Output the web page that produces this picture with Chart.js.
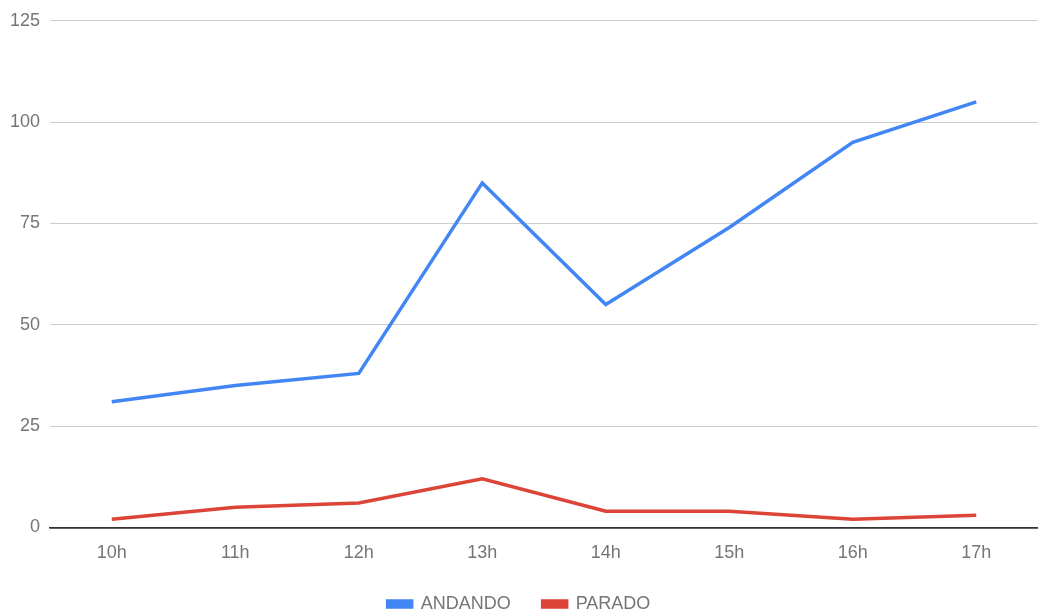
<!DOCTYPE html>
<html>
<head>
<meta charset="utf-8">
<script src="https://cdn.jsdelivr.net/npm/chart.js@4"></script>
<style>
  html, body { margin: 0; padding: 0; background: #fff; }
  #wrap { width: 1038px; height: 616px; }
</style>
</head>
<body>
<div id="wrap"><canvas id="chart"></canvas></div>
<script>
// horas do dia
const horas = ['10h', '11h', '12h', '13h', '14h', '15h', '16h', '17h'];
const andando = [31, 35, 38, 85, 55, 74, 95, 105];
const parado = [2, 5, 6, 12, 4, 4, 2, 3];

const yMin = 0;
const yMax = 125;
const yStep = 25;

const fonte = { family: 'Arial, "Liberation Sans", sans-serif', size: 18 };
const cinza = '#757575';

new Chart(document.getElementById('chart'), {
    type: 'line',
    data: {
        labels: horas,
        datasets: [{
            label: 'ANDANDO',
            data: andando,
            borderColor: '#4285F4',
            backgroundColor: '#4285F4',
            borderWidth: 3.5,
            pointRadius: 0,
            tension: 0
        }, {
            label: 'PARADO',
            data: parado,
            borderColor: '#DB4437',
            backgroundColor: '#DB4437',
            borderWidth: 3.5,
            pointRadius: 0,
            tension: 0
        }]
    },
    options: {
        responsive: true,
        maintainAspectRatio: false,
        animation: false,
        layout: { padding: { left: 0, top: 10, right: 0, bottom: -7 } },
        plugins: {
            tooltip: { enabled: false },
            legend: {
                position: 'bottom',
                labels: {
                    font: fonte,
                    color: cinza,
                    boxWidth: 24,
                    boxHeight: 6,
                    padding: 32
                }
            }
        },
        scales: {
            x: {
                offset: true,
                grid: { display: false },
                border: { color: '#333', width: 1.5 },
                ticks: { font: fonte, color: cinza, padding: 7 },
                afterFit: scale => { scale.height -= 8; }
            },
            y: {
                min: yMin,
                max: yMax,
                border: { display: false },
                grid: {
                    drawTicks: false,
                    color: ctx => ctx.tick.value === 0 ? '#333' : '#ccc',
                    lineWidth: ctx => ctx.tick.value === 0 ? 1.5 : 1
                },
                ticks: { stepSize: yStep, font: fonte, color: cinza, padding: 10 }
            }
        }
    }
});
</script>
</body>
</html>
